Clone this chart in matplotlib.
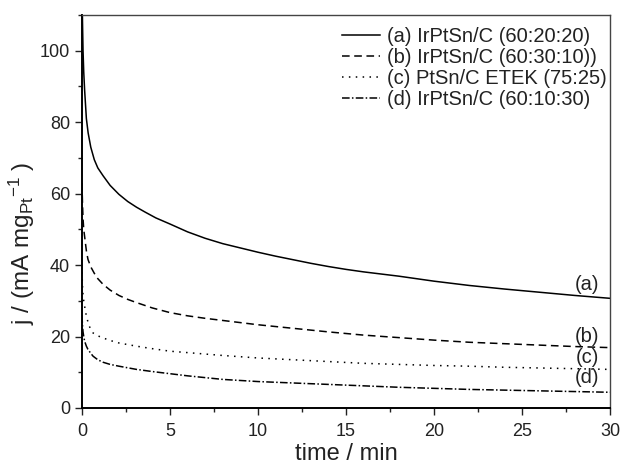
import matplotlib.pyplot as plt
from matplotlib.ticker import MultipleLocator

plt.rcParams['font.family'] = ['Liberation Sans', 'DejaVu Sans']
plt.rcParams['mathtext.fontset'] = 'custom'
plt.rcParams['mathtext.rm'] = 'Liberation Sans'
plt.rcParams['mathtext.it'] = 'Liberation Sans:italic'

# time (min) and current density (mA mg_Pt^-1)
t_a = [0, 0.03, 0.06, 0.1, 0.15, 0.25, 0.35, 0.5, 0.7, 0.9, 1.2, 1.6, 2.1, 2.6, 3.1,
       3.6, 4.2, 5, 6, 7, 8, 9, 10, 11, 12, 13, 14, 15, 16, 17, 18, 19, 20, 22,
       24, 26, 28, 30]
j_a = [118, 108, 100, 94, 89, 81, 77, 73, 69.5, 67.2, 65, 62.3, 59.8, 57.8, 56.2,
       54.8, 53.2, 51.5, 49.3, 47.5, 46.0, 44.8, 43.6, 42.5, 41.5, 40.5, 39.6,
       38.8, 38.1, 37.5, 36.9, 36.2, 35.5, 34.3, 33.3, 32.4, 31.5, 30.7]

t_b = [0, 0.03, 0.06, 0.1, 0.15, 0.25, 0.34, 0.5, 0.7, 0.9, 1.2, 1.6, 2.1, 2.6, 3.1,
       4, 5, 6, 7, 8, 9, 10, 12, 14, 16, 18, 20, 22, 24, 26, 28, 30]
j_b = [63, 57, 53, 50, 48, 44, 41.6, 39.5, 37.7, 36.2, 34.6, 33, 31.5, 30.4, 29.5,
       28, 26.7, 25.8, 25.1, 24.5, 23.9, 23.3, 22.3, 21.3, 20.4, 19.7, 19.0,
       18.4, 18.0, 17.6, 17.2, 16.9]

t_c = [0, 0.03, 0.06, 0.1, 0.15, 0.25, 0.4, 0.63, 0.9, 1.2, 1.6, 2.1, 3.1, 4, 5, 6,
       8, 10, 12, 14, 16, 18, 20, 22, 24, 26, 28, 30]
j_c = [38, 34, 31.5, 30, 28.5, 25.7, 23, 21.0, 20.2, 19.6, 18.9, 18.2, 17.3, 16.6,
       15.9, 15.5, 14.7, 14.0, 13.5, 13.0, 12.5, 12.2, 11.9, 11.7, 11.4, 11.2,
       11.0, 10.8]

t_d = [0, 0.03, 0.06, 0.1, 0.15, 0.25, 0.34, 0.5, 0.63, 0.9, 1.2, 1.6, 2.1, 3.1, 4,
       5, 6, 7, 8, 10, 12, 14, 16, 18, 20, 22, 24, 26, 28, 30]
j_d = [26, 23, 21.3, 20, 18.7, 17.3, 16.4, 15.3, 14.5, 13.5, 12.8, 12.2, 11.7, 10.8,
       10.2, 9.6, 9.0, 8.5, 8.0, 7.4, 7.0, 6.6, 6.2, 5.8, 5.5, 5.2, 5.0, 4.8,
       4.6, 4.4]

labels = ['(a) IrPtSn/C (60:20:20)', '(b) IrPtSn/C (60:30:10))',
          '(c) PtSn/C ETEK (75:25)', '(d) IrPtSn/C (60:10:30)']
tags = ['(a)', '(b)', '(c)', '(d)']
tag_y = [34.7, 20.1, 14.2, 8.4]

ink = '#222222'

fig = plt.figure(figsize=(6.22, 4.65), dpi=100)
ax = fig.add_axes([0.1318, 0.1226, 0.8489, 0.8451])

ax.plot(t_a, j_a, color='black', lw=1.1, linestyle='-', label=labels[0])
ax.plot(t_b, j_b, color='black', lw=1.1, linestyle=(0, (5, 3)), label=labels[1])
ax.plot(t_c, j_c, color='black', lw=1.1, linestyle=(0, (1, 3.5)), label=labels[2])
ax.plot(t_d, j_d, color='black', lw=1.1, linestyle=(0, (5, 1.5, 1, 1.5)), label=labels[3])

for tag, y in zip(tags, tag_y):
    ax.text(28.7, y, tag, ha='center', va='center', fontsize=14.5, color=ink)

ax.set_xlim(0, 30)
ax.set_ylim(0, 110)
ax.xaxis.set_major_locator(MultipleLocator(5))
ax.xaxis.set_minor_locator(MultipleLocator(2.5))
ax.yaxis.set_major_locator(MultipleLocator(20))
ax.yaxis.set_minor_locator(MultipleLocator(10))
ax.tick_params(which='both', direction='out', top=False, right=False,
               labelsize=13, colors=ink)
ax.tick_params(which='major', length=5, width=1)
ax.tick_params(axis='x', which='major', pad=6)
ax.tick_params(which='minor', length=3, width=1)
for s in ['left', 'bottom']:
    ax.spines[s].set_linewidth(1.4)
for s in ['top', 'right']:
    ax.spines[s].set_linewidth(1.0)
    ax.spines[s].set_color('#444444')

ax.set_xlabel('time / min', fontsize=17, color=ink, labelpad=2)
ax.set_ylabel(r'j / (mA mg$_{\mathrm{Pt}}$$^{\mathrm{-1}}$ )', fontsize=17.5,
              color=ink)
ax.yaxis.set_label_coords(-0.085, 0.42)

leg = ax.legend(loc='upper right', bbox_to_anchor=(0.998, 0.975), frameon=False,
                fontsize=14.5, handlelength=1.9, handletextpad=0.35,
                labelspacing=0.1, borderaxespad=0.0, borderpad=0.1)
for txt in leg.get_texts():
    txt.set_color(ink)

fig.savefig('out.png', dpi=100)
